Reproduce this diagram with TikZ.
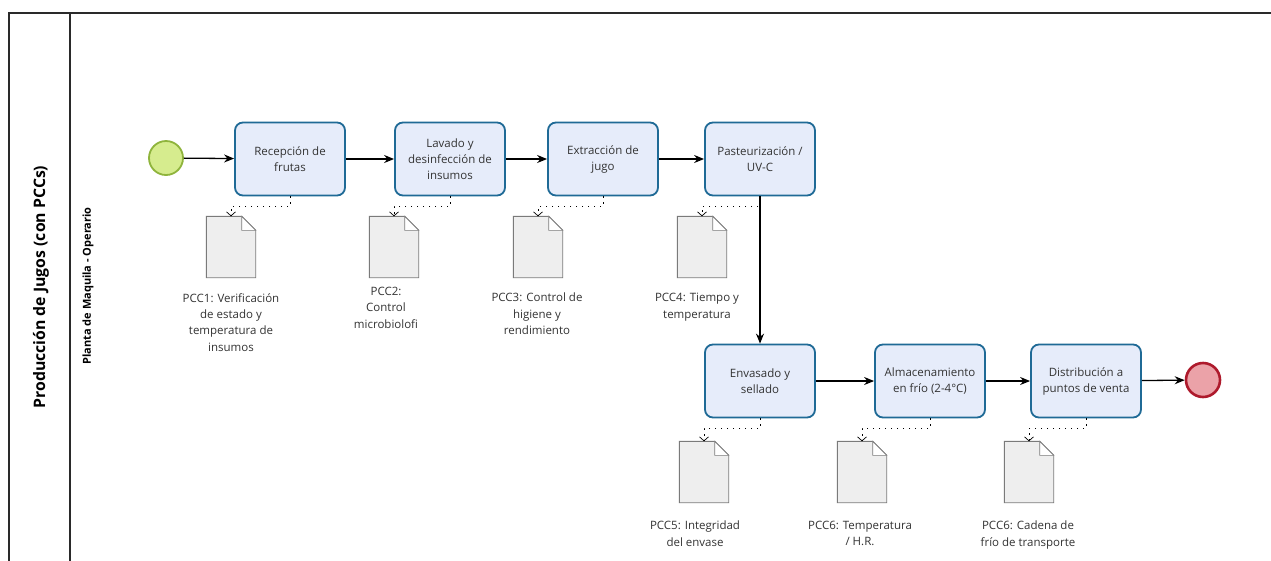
\documentclass[tikz,border=0pt]{standalone}
\usepackage{fontspec}
\setmainfont{Open Sans}
\usetikzlibrary{arrows.meta}

\definecolor{taskline}{HTML}{1F6A96}
\definecolor{taskfill}{HTML}{E6ECFA}
\definecolor{startfill}{HTML}{D6EC8E}
\definecolor{startline}{HTML}{8FB43C}
\definecolor{endfill}{HTML}{EBA2A8}
\definecolor{endline}{HTML}{AE1A2C}
\definecolor{docfill}{HTML}{EEEEEE}
\definecolor{docline}{HTML}{7A7A7A}
\definecolor{frameline}{HTML}{2A2A2A}
\definecolor{txt}{HTML}{333333}

% data object: page with a folded top-right corner
\newcommand\docicon[1]{%
  \draw[docline,line width=0.9pt,fill=docfill]
    (#1.south west) -- (#1.north west) -- ([xshift=-14pt]#1.north east)
    -- ([yshift=-14pt]#1.north east) -- (#1.south east) -- cycle;
  \draw[docline,line width=0.6pt,fill=white]
    ([xshift=-14pt]#1.north east) -- ([xshift=-14pt,yshift=-14pt]#1.north east)
    -- ([yshift=-14pt]#1.north east) -- cycle;
}

\tikzset{
  frame/.style={draw=frameline,line width=1.4pt},
  task/.style={draw=taskline,fill=taskfill,line width=1.8pt,rounded corners=8pt,
    minimum width=110pt,minimum height=73pt,align=center,text=txt,
    font=\fontsize{11.5}{16}\selectfont},
  startev/.style={circle,draw=startline,fill=startfill,line width=1.8pt,minimum size=34pt,inner sep=0},
  endev/.style={circle,draw=endline,fill=endfill,line width=2.6pt,minimum size=34pt,inner sep=0},
  flow/.style={draw=black,line width=1.3pt,-{Stealth[length=10pt,width=8pt]}},
  assoc/.style={draw=black,line width=0.9pt,dash pattern=on 1.4pt off 4.6pt,
    -{Straight Barb[length=4pt,width=9pt,line width=0.7pt]}},
  docbox/.style={draw=none,minimum width=49pt,minimum height=61pt,inner sep=0},
  lbl/.style={align=center,text=txt,inner sep=0,anchor=north,
    font=\fontsize{11.5}{16.4}\selectfont},
}

\begin{document}
\begin{tikzpicture}[x=1pt,y=-1pt]
\useasboundingbox (0,0) rectangle (1271,560);
\fill[white] (0,0) rectangle (1271,560);

% pool and lane frame
\draw[frame] (9,570) -- (9,13) -- (1275,13);
\draw[frame] (70,13) -- (70,570);
\node[rotate=90,font=\fontsize{15.8}{18}\selectfont\bfseries,text=black] (pool) at (41,287) {Producción de Jugos (con PCCs)};
\node[rotate=90,font=\fontsize{11}{13}\selectfont\bfseries,text=black] (lane) at (88,286) {Planta de Maquila - Operario};

% events and tasks
\node[startev] (s) at (166,158) {};
\node[task] (t1) at (290,159) {Recepción de\\frutas};
\node[task] (t2) at (450,159) {Lavado y\\desinfección de\\insumos};
\node[task] (t3) at (603,159) {Extracción de\\jugo};
\node[task] (t4) at (760,159) {Pasteurización /\\UV-C};
\node[task] (t5) at (760,381) {Envasado y\\sellado};
\node[task] (t6) at (930,381) {Almacenamiento\\en frío (2-4°C)};
\node[task] (t7) at (1086,381) {Distribución a\\puntos de venta};
\node[endev] (e) at (1203,380) {};

% sequence flows
\draw[flow] (s) -- (t1);
\draw[flow] (t1) -- (t2);
\draw[flow] (t2) -- (t3);
\draw[flow] (t3) -- (t4);
\draw[flow] (t4) -- (t5);
\draw[flow] (t5) -- (t6);
\draw[flow] (t6) -- (t7);
\draw[flow] (t7) -- (e);

% data objects
\node[docbox] (d1) at (231,247) {};
\node[docbox] (d2) at (394,247) {};
\node[docbox] (d3) at (538,247) {};
\node[docbox] (d4) at (702,247) {};
\node[docbox] (d5) at (704,472) {};
\node[docbox] (d6) at (862,472) {};
\node[docbox] (d7) at (1029,472) {};
\docicon{d1}\docicon{d2}\docicon{d3}\docicon{d4}
\docicon{d5}\docicon{d6}\docicon{d7}

% data associations
\draw[assoc] (t1.south) -- ([yshift=-10pt]t1.south) -| (d1.north);
\draw[assoc] (t2.south) -- ([yshift=-10pt]t2.south) -| (d2.north);
\draw[assoc] (t3.south) -- ([yshift=-10pt]t3.south) -| (d3.north);
\draw[assoc] (t4.south) -- ([yshift=-10pt]t4.south) -| (d4.north);
\draw[assoc] (t5.south) -- ([yshift=-10pt]t5.south) -| (d5.north);
\draw[assoc] (t6.south) -- ([yshift=-10pt]t6.south) -| (d6.north);
\draw[assoc] (t7.south) -- ([yshift=-10pt]t7.south) -| (d7.north);

% control point labels
\node[lbl] (l1) at (231,293) {PCC1: Verificación\\de estado y\\temperatura de\\insumos};
\node[lbl] (l2) at (386,287) {PCC2:\\Control\\microbiolofi};
\node[lbl] (l3) at (537,293) {PCC3: Control de\\higiene y\\rendimiento};
\node[lbl] (l4) at (697,293) {PCC4: Tiempo y\\temperatura};
\node[lbl] (l5) at (695,521) {PCC5: Integridad\\del envase};
\node[lbl] (l6) at (860,521) {PCC6: Temperatura\\/ H.R.};
\node[lbl] (l7) at (1028,521) {PCC6: Cadena de\\frío de transporte};
\end{tikzpicture}
\end{document}
